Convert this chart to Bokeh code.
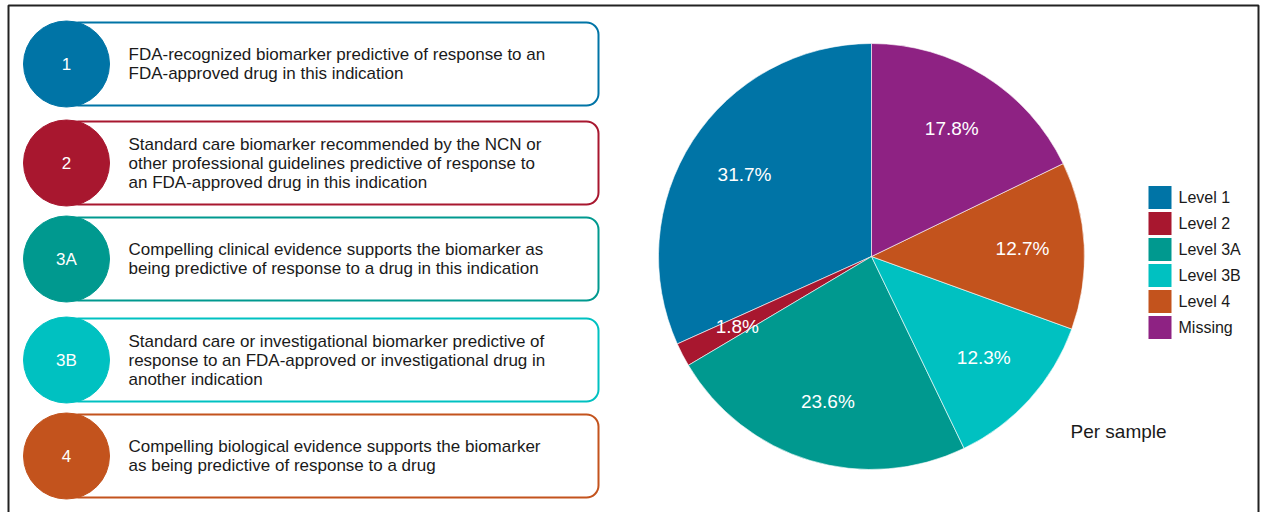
import math
from bokeh.plotting import figure
from bokeh.models import Range1d
from bokeh.core.properties import value
from bokeh.embed import file_html
from bokeh.resources import INLINE

# ---- data ----
levels = ["Level 1", "Level 2", "Level 3A", "Level 3B", "Level 4", "Missing"]
shares = [31.7, 1.8, 23.6, 12.3, 12.7, 17.8]
colors = ["#0074A6", "#A8172F", "#00998F", "#00C1C1", "#C3531D", "#8E2283"]

box_labels = ["1", "2", "3A", "3B", "4"]
box_colors = ["#0074A6", "#A8172F", "#00998F", "#00C1C1", "#C3531D"]
box_texts = [
    ["FDA-recognized biomarker predictive of response to an",
     "FDA-approved drug in this indication"],
    ["Standard care biomarker recommended by the NCN or",
     "other professional guidelines predictive of response to",
     "an FDA-approved drug in this indication"],
    ["Compelling clinical evidence supports the biomarker as",
     "being predictive of response to a drug in this indication"],
    ["Standard care or investigational biomarker predictive of",
     "response to an FDA-approved or investigational drug in",
     "another indication"],
    ["Compelling biological evidence supports the biomarker",
     "as being predictive of response to a drug"],
]
caption = "Per sample"

W, H = 1264, 512
FONT = "Liberation Sans"

p = figure(width=W, height=H, x_range=Range1d(0, W), y_range=Range1d(0, H),
           output_backend="svg", toolbar_location=None, min_border=0)
p.axis.visible = False
p.grid.visible = False
p.outline_line_color = None
p.background_fill_color = "white"

def Y(y):
    return H - y

# outer frame
p.line([8, 8, 1258, 1258], [Y(512), Y(5), Y(5), Y(512)], line_color="#222222", line_width=2)

# ---- left boxes ----
box_tops = [22, 121, 217, 318, 414]
box_h = 83
for top, lab, col, lines in zip(box_tops, box_labels, box_colors, box_texts):
    cy = top + box_h / 2
    p.quad(left=66, right=598, top=Y(top), bottom=Y(top + box_h),
           fill_color="white", line_color=col, line_width=2, border_radius=12)
    p.circle(x=[66], y=[Y(cy)], radius=43, fill_color=col, line_color=col)
    p.text(x=[66], y=[Y(cy)], text=[lab], text_color="white", text_font=value(FONT),
           text_font_size="17px", text_align="center", text_baseline="middle")
    n = len(lines)
    ys = [Y(cy + (i - (n - 1) / 2) * 19) for i in range(n)]
    p.text(x=[128] * n, y=ys, text=lines, text_color="#1A1A1A", text_font=value(FONT),
           text_font_size="17px", text_align="left", text_baseline="middle")

# ---- pie ----
cx, cy, r = 871, 256, 213
total = sum(shares)
starts, ends, lx, ly = [], [], [], []
a = math.pi / 2
for s in shares:
    b = a + 2 * math.pi * s / total
    starts.append(a)
    ends.append(b)
    m = (a + b) / 2
    lx.append(cx + 0.71 * r * math.cos(m))
    ly.append(Y(cy) + 0.71 * r * math.sin(m))
    a = b
p.wedge(x=cx, y=Y(cy), radius=r, start_angle=starts, end_angle=ends,
        fill_color=colors, line_color="white", line_width=0.6)
p.text(x=lx, y=ly, text=[f"{s:.1f}%" for s in shares], text_color="white",
       text_font=value(FONT), text_font_size="19px", text_align="center",
       text_baseline="middle")

# ---- legend ----
lg_y = [Y(197 + 26 * i) for i in range(len(levels))]
p.rect(x=[1159.5] * len(levels), y=lg_y, width=23, height=23, fill_color=colors,
       line_color=None)
p.text(x=[1178] * len(levels), y=lg_y, text=levels, text_color="#1A1A1A",
       text_font=value(FONT), text_font_size="16px", text_align="left",
       text_baseline="middle")

p.text(x=[1070], y=[Y(431)], text=[caption], text_color="#1A1A1A",
       text_font=value(FONT), text_font_size="19px", text_align="left",
       text_baseline="middle")

open("out.html", "w").write(file_html(p, INLINE))
